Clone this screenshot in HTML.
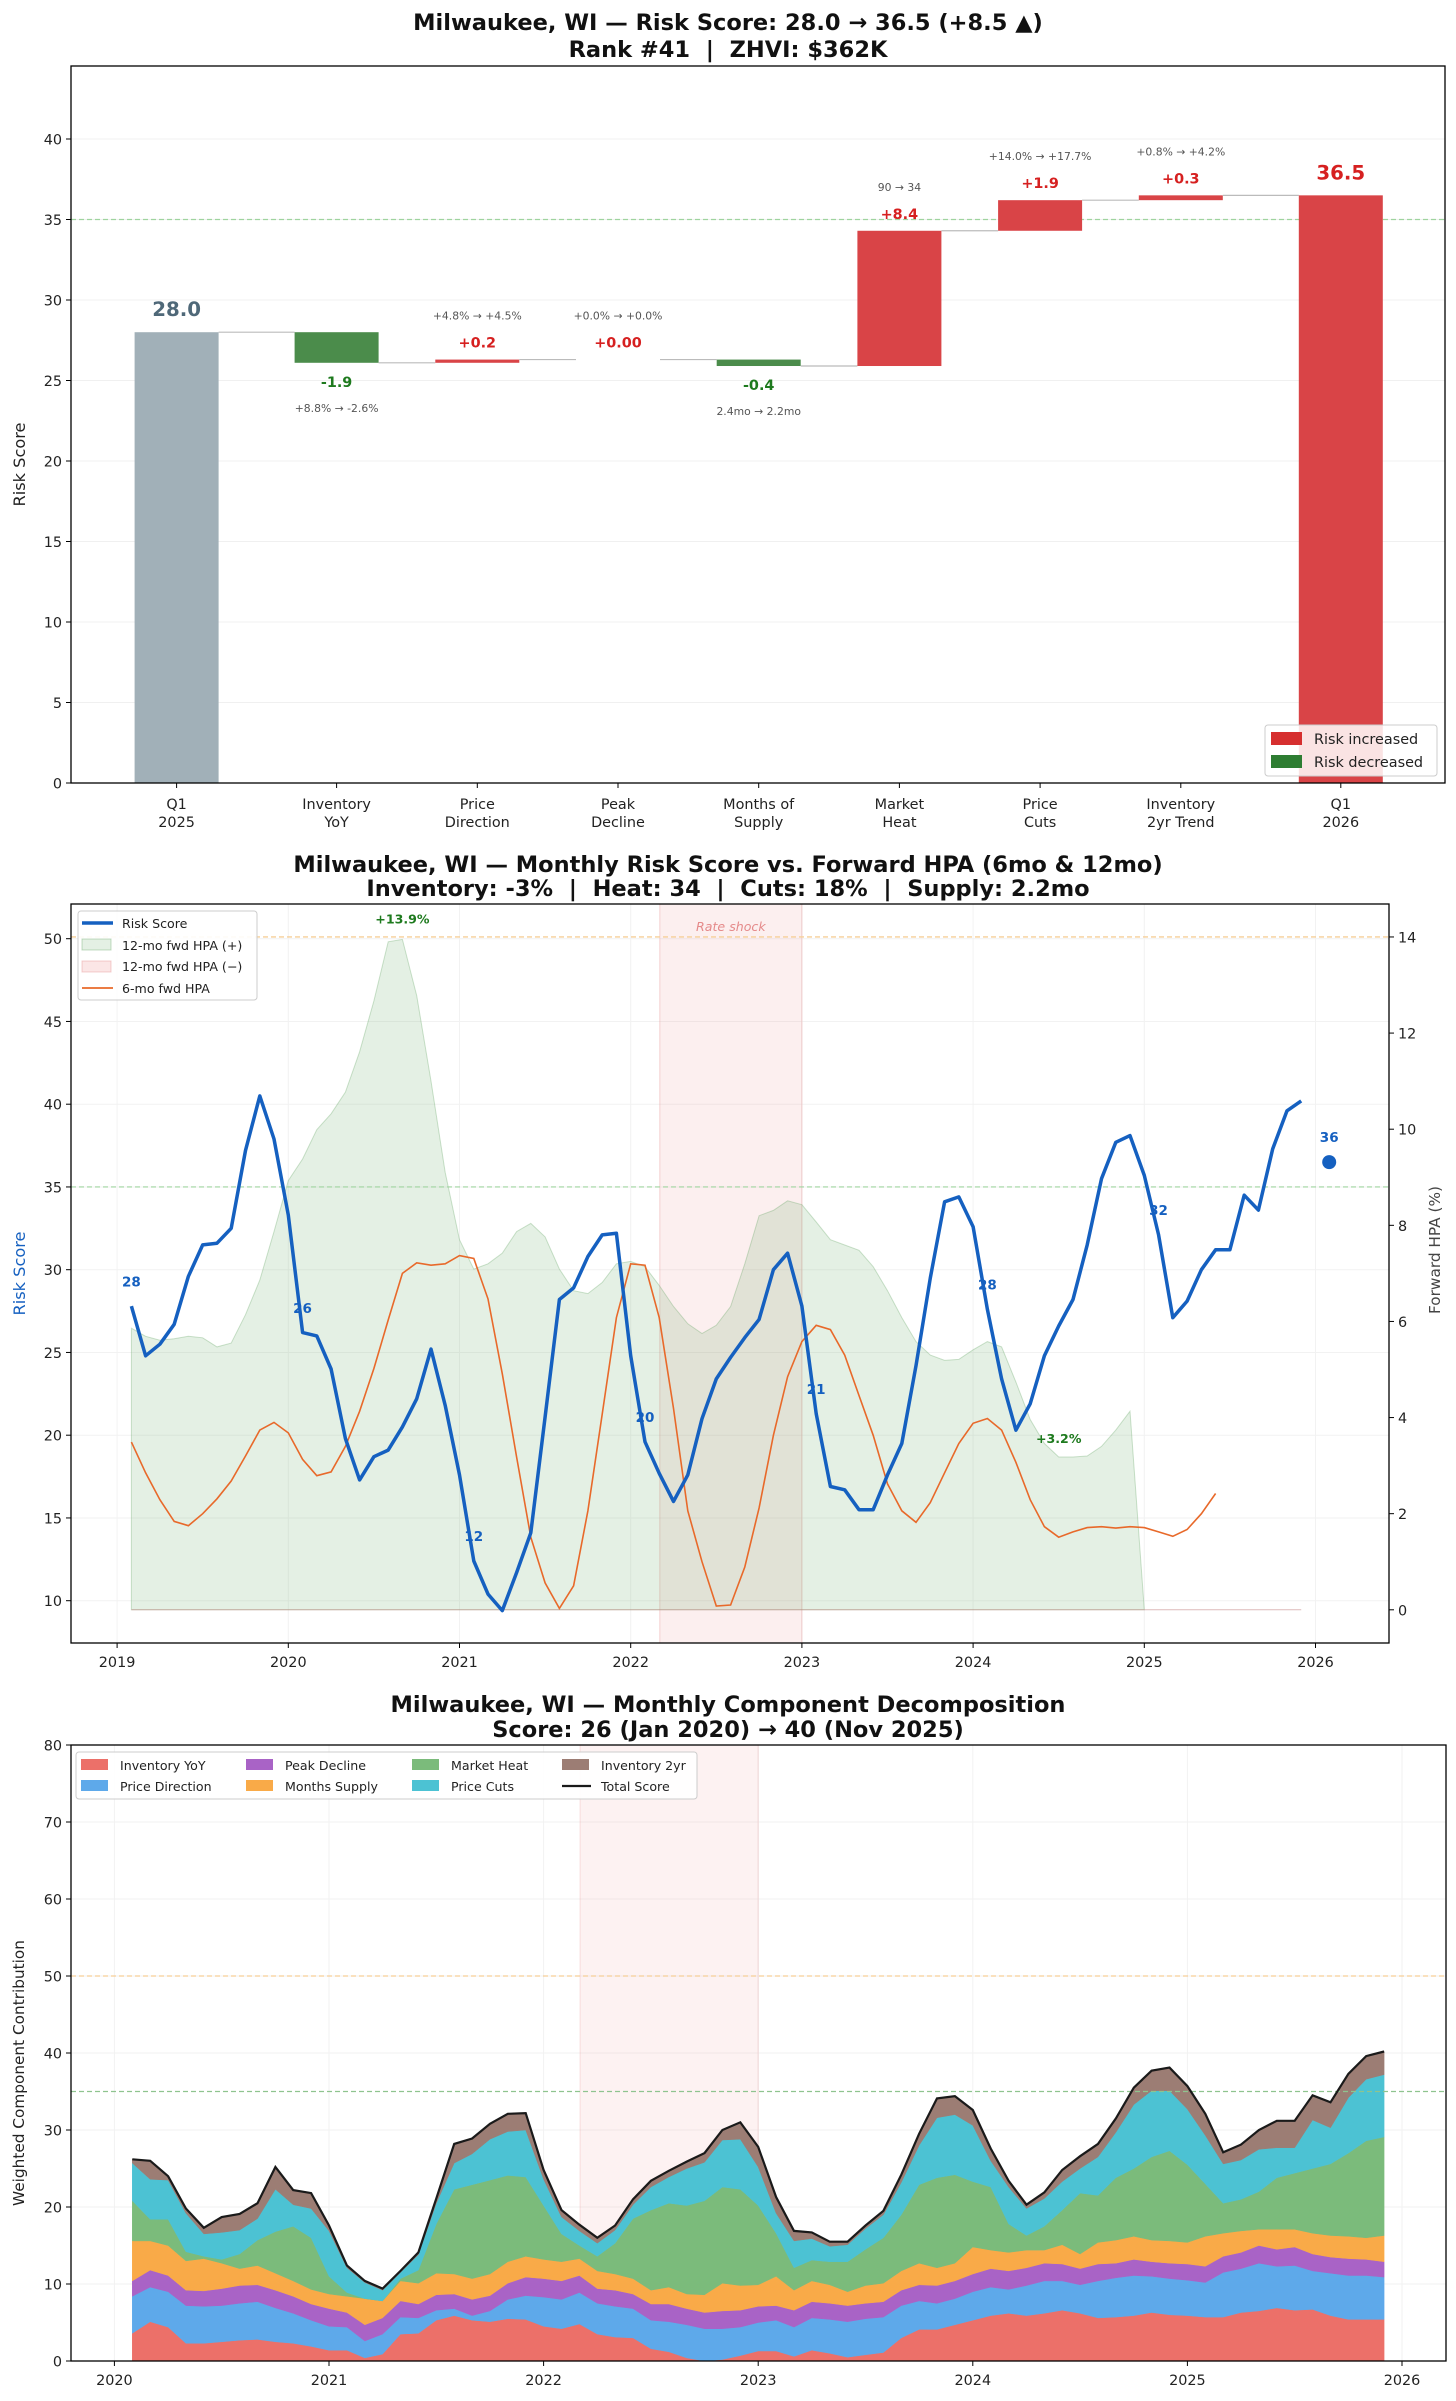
<!DOCTYPE html>
<html><head><meta charset="utf-8"><style>
html,body{margin:0;padding:0;background:#fff;}
svg{display:block;font-family:"DejaVu Sans","Liberation Sans",sans-serif;}
.pre{white-space:pre;}
</style></head><body>
<svg id="root" width="1456" height="2401" viewBox="0 0 1456 2401" xmlns="http://www.w3.org/2000/svg">
<rect width="1456" height="2401" fill="#fff"/>
<g id="p1"></g>
<g id="p2"></g>
<g id="p3"></g>
</svg>
<script>
// ---------- Panel 1 data ----------
const wfCategories = [["Q1","2025"],["Inventory","YoY"],["Price","Direction"],["Peak","Decline"],["Months of","Supply"],["Market","Heat"],["Price","Cuts"],["Inventory","2yr Trend"],["Q1","2026"]];
const wfStart = 28.0;
const wfDeltas = [-1.9, 0.2, 0.00, -0.4, 8.4, 1.9, 0.3];
const wfDeltaLabels = ["-1.9","+0.2","+0.00","-0.4","+8.4","+1.9","+0.3"];
const wfSubLabels = ["+8.8% \u2192 -2.6%","+4.8% \u2192 +4.5%","+0.0% \u2192 +0.0%","2.4mo \u2192 2.2mo","90 \u2192 34","+14.0% \u2192 +17.7%","+0.8% \u2192 +4.2%"];
const wfEnd = 36.5;
const wfYTicks = [0,5,10,15,20,25,30,35,40];

// ---------- Panel 2 data ----------
const riskScore = [27.8,24.8,25.5,26.7,29.6,31.5,31.6,32.5,37.2,40.5,37.9,
33.3,26.2,26.0,24.0,19.8,17.3,18.7,19.1,20.5,22.2,25.2,21.8,
17.6,12.4,10.4,9.4,11.7,14.1,21.1,28.2,28.9,30.8,32.1,32.2,
24.8,19.6,17.7,16.0,17.6,21.0,23.4,24.7,25.9,27.0,30.0,31.0,
27.8,21.3,16.9,16.7,15.5,15.5,17.6,19.5,24.2,29.5,34.1,34.4,
32.6,27.6,23.4,20.3,21.9,24.8,26.6,28.2,31.5,35.5,37.7,38.1,
35.7,32.1,27.1,28.1,30.0,31.2,31.2,34.5,33.6,37.3,39.6,40.2];
const hpa6 = [3.49,2.85,2.29,1.84,1.75,2.0,2.31,2.68,3.2,3.74,3.9,
3.68,3.13,2.79,2.87,3.4,4.13,5.02,6.03,7.0,7.22,7.17,7.2,
7.37,7.31,6.47,4.91,3.18,1.51,0.56,0.03,0.5,2.06,4.07,6.08,
7.2,7.17,6.08,4.19,2.06,1.0,0.08,0.1,0.89,2.12,3.63,4.85,
5.58,5.92,5.83,5.3,4.46,3.63,2.62,2.06,1.82,2.23,2.85,3.46,
3.88,3.98,3.74,3.07,2.29,1.73,1.51,1.62,1.71,1.73,1.7,1.73,
1.71,1.62,1.53,1.67,2.0,2.42];
const hpa12 = [5.86,5.69,5.61,5.64,5.69,5.66,5.47,5.55,6.14,6.86,7.87,
8.93,9.38,9.99,10.32,10.77,11.61,12.67,13.9,13.95,12.78,11.0,9.1,
7.7,7.09,7.2,7.42,7.87,8.04,7.76,7.09,6.64,6.58,6.81,7.2,
7.25,7.14,6.75,6.31,5.95,5.75,5.92,6.31,7.2,8.2,8.31,8.51,
8.43,8.07,7.7,7.59,7.48,7.14,6.64,6.08,5.58,5.3,5.19,5.21,
5.41,5.58,5.47,4.74,3.96,3.46,3.18,3.18,3.2,3.4,3.74,4.13,
0];
const riskStartYear = 2019 + 1/12;
const currentScore = 36.5;
const currentDate = 2026.08;
const p2YTicks = [10,15,20,25,30,35,40,45,50];
const p2RTicks = [0,2,4,6,8,10,12,14];
const p2XTicks = [2019,2020,2021,2022,2023,2024,2025,2026];

// ---------- Panel 3 data ----------
const compStartYear = 2020 + 1/12;
const invYoY = [3.6,5.1,4.4,2.3,2.3,2.5,2.7,2.8,2.5,2.3,1.9,1.4,1.4,0.4,0.9,3.5,3.6,5.3,5.9,5.3,5.1,5.5,5.4,4.5,4.2,4.8,3.5,3.1,3.0,1.6,1.2,0.4,0,0.2,0.7,1.3,1.3,0.6,1.4,1.0,0.5,0.8,1.1,3.0,4.1,4.1,4.7,5.3,5.9,6.2,5.9,6.2,6.6,6.2,5.6,5.7,5.9,6.3,6.0,5.9,5.7,5.7,6.3,6.5,6.9,6.6,6.7,5.9,5.4,5.4,5.4];
const priceDir = [4.8,4.5,4.6,4.9,4.8,4.7,4.8,4.9,4.4,3.9,3.4,3.1,3.0,2.2,2.6,2.2,2.0,1.3,0.9,0.6,1.4,2.5,3.1,3.8,3.8,4.1,4.0,4.0,3.8,3.7,3.9,4.3,4.2,4.0,3.7,3.7,4.0,3.8,4.2,4.4,4.6,4.7,4.6,4.2,3.7,3.4,3.4,3.7,3.7,3.1,3.9,4.2,3.8,3.7,4.8,5.1,5.2,4.7,4.7,4.6,4.5,5.8,5.7,6.2,5.4,5.8,5.0,5.5,5.7,5.7,5.5];
const peakDecl = [2.0,2.2,2.1,2.0,2.0,2.2,2.3,2.2,2.3,2.2,2.1,2.3,1.9,2.1,2.1,2.1,1.8,2.0,1.9,2.1,2.0,2.1,2.4,2.4,2.4,2.2,1.9,2.1,1.9,2.1,2.3,2.1,2.1,2.3,2.2,2.1,1.9,2.2,2.1,2.1,2.1,2.0,2.0,2.0,2.1,2.3,2.3,2.3,2.4,2.4,2.3,2.3,2.2,2.1,2.2,1.9,2.1,1.9,2.0,2.1,2.1,2.1,2.1,2.3,2.2,2.4,2.2,2.1,2.2,2.1,2.0];
const monthsSup = [5.2,3.8,3.9,3.8,4.2,3.3,2.2,2.5,2.2,2.0,1.9,1.9,2.1,3.4,2.2,2.6,2.7,2.8,2.6,2.7,2.8,2.8,2.7,2.5,2.5,2.2,2.3,2.1,2.0,1.8,2.2,1.9,2.3,3.6,3.2,2.8,3.8,2.6,2.7,2.4,1.8,2.3,2.4,2.5,2.8,2.3,2.3,3.5,2.4,2.4,2.3,1.7,2.5,1.9,2.8,3.0,3.0,2.8,2.9,2.8,3.9,3.0,2.8,2.1,2.6,2.3,2.7,2.8,2.9,2.8,3.4];
const mktHeat = [5.2,2.8,3.4,1.2,0.3,0.5,1.9,3.3,5.4,7.1,6.7,2.3,0.5,0,0,0.3,1.7,6.4,11.0,12.2,12.2,11.2,10.3,7.0,3.6,1.7,1.9,4.0,7.8,10.4,10.9,11.5,12.2,12.5,12.5,10.3,5.6,2.9,2.7,3.0,3.9,4.7,5.9,7.3,10.2,11.7,11.5,8.5,8.2,3.7,1.9,3.1,4.5,7.9,6.1,8.1,8.8,10.8,11.7,10.1,6.8,3.9,4.1,4.9,6.7,7.3,8.4,9.3,10.8,12.6,12.8];
const priceCuts = [4.9,5.2,5.1,5.0,2.9,3.5,3.1,2.8,5.5,2.8,3.8,5.9,3.2,2.1,1.4,0.8,2.0,2.7,3.4,4.0,5.3,5.7,6.1,3.4,2.2,1.9,1.7,1.7,1.8,3.0,3.4,4.8,5.0,6.1,6.5,5.0,2.6,3.5,2.8,2.0,2.2,2.7,3.0,4.2,5.1,7.8,7.8,7.3,3.4,4.8,3.5,3.6,3.7,3.2,5.0,5.9,8.3,8.6,7.8,7.2,6.3,5.1,5.1,5.5,3.9,3.3,6.3,4.7,7.2,8.0,8.1];
const inv2yr = [0.5,2.4,0.5,0.6,0.8,2.0,2.1,2.0,2.9,1.9,2.0,0.7,0.3,0.2,0.2,0.2,0.3,0.6,2.5,2.0,2.0,2.3,2.2,1.2,0.9,0.8,0.7,0.6,0.7,0.8,0.8,0.9,1.2,1.3,2.2,2.6,2.1,1.3,0.8,0.6,0.4,0.4,0.5,1.0,1.5,2.5,2.4,2.0,1.6,0.8,0.5,0.8,1.5,1.6,1.7,1.8,2.2,2.6,3.0,3.0,2.8,1.5,2.0,2.5,3.5,3.5,3.2,3.3,3.1,3.0,3.0];
const compNames = ["Inventory YoY","Price Direction","Peak Decline","Months Supply","Market Heat","Price Cuts","Inventory 2yr"];
const p3YTicks = [0,10,20,30,40,50,60,70,80];
const p3XTicks = [2020,2021,2022,2023,2024,2025,2026];
const rateShock = [2022.17, 2023.0];

// ---------- helpers ----------
const NS="http://www.w3.org/2000/svg";
const FS=0.9;
function mk(parent, tag, attrs, text){
  const e=document.createElementNS(NS,tag);
  for(const k in attrs){
    let v=attrs[k];
    if(k==='font-size') v=(v*FS).toFixed(2);
    e.setAttribute(k,v);
  }
  if(text!==undefined) e.textContent=text;
  parent.appendChild(e); return e;
}
function lineStr(pts){return pts.map((p,i)=>(i?'L':'M')+p[0].toFixed(1)+','+p[1].toFixed(1)).join('');}
const TITLE=25;

// ================= PANEL 1 =================
(function(){
  const g=document.getElementById('p1');
  const L=71,R=1445,T=66,B=783;
  const yS=v=>B-v*(B-139)/40;
  const step=140.7, gap=19.3;
  const xC=i=> i===0 ? 336.6-step-gap : (i===wfCategories.length-1 ? 336.6+(i-1)*step+gap : 336.6+(i-1)*step);
  const bw=84;
  let t=mk(g,'text',{x:728,y:30,'text-anchor':'middle','font-size':TITLE,'font-weight':'bold',fill:'#111'},'Milwaukee, WI \u2014 Risk Score: 28.0 \u2192 36.5 (+8.5 \u25B2)');
   
  t=mk(g,'text',{x:728,y:57,'text-anchor':'middle','font-size':TITLE,'font-weight':'bold',fill:'#111','class':'pre'},'Rank #41  |  ZHVI: $362K');
   
  wfYTicks.forEach(v=>{
    const y=yS(v);
    const gl=mk(g,'line',{x1:L,x2:R,y1:y,y2:y,stroke:'#f0f0f0','stroke-width':1});
     
    mk(g,'line',{x1:L-5,x2:L,y1:y,y2:y,stroke:'#000'});
    const tl=mk(g,'text',{x:L-9,y:y+5.5,'text-anchor':'end','font-size':16,fill:'#222'},String(v));
     
  });
  const ref=mk(g,'line',{x1:L,x2:R,y1:yS(35),y2:yS(35),stroke:'#9fd49f','stroke-width':1.2,'stroke-dasharray':'5,3'});
   
  let level=wfStart;
  let b=mk(g,'rect',{x:xC(0)-bw/2,y:yS(wfStart),width:bw,height:yS(0)-yS(wfStart),fill:'#a1b0b8'});
   
  t=mk(g,'text',{x:xC(0),y:yS(wfStart)-16,'text-anchor':'middle','font-size':22,'font-weight':'bold',fill:'#4f6878'},wfStart.toFixed(1));
   
  wfDeltas.forEach((d,k)=>{
    const i=k+1;
    const prev=level; level=+(level+d).toFixed(2);
    const cn=mk(g,'line',{x1:xC(i-1)+bw/2,x2:xC(i)-bw/2,y1:yS(prev),y2:yS(prev),stroke:'#bbb','stroke-width':1.2});
     
    const top=Math.max(prev,level), bot=Math.min(prev,level);
    const col=d>=0?'#d94447':'#4b8c4b';
    const h=Math.max(yS(bot)-yS(top), d===0?0:2.5);
    const r=mk(g,'rect',{x:xC(i)-bw/2,y:yS(top),width:bw,height:h,fill:col});
     
    const lc=d>=0?'#d62020':'#1e7a1e';
    if(d>=0){
      const a=mk(g,'text',{x:xC(i),y:yS(top)-12,'text-anchor':'middle','font-size':16,'font-weight':'bold',fill:lc},wfDeltaLabels[k]);
       
      const s=mk(g,'text',{x:xC(i),y:yS(top)-40,'text-anchor':'middle','font-size':12,fill:'#555'},wfSubLabels[k]);
       
    } else {
      const a=mk(g,'text',{x:xC(i),y:yS(bot)+24,'text-anchor':'middle','font-size':16,'font-weight':'bold',fill:lc},wfDeltaLabels[k]);
       
      const s=mk(g,'text',{x:xC(i),y:yS(bot)+49,'text-anchor':'middle','font-size':12,fill:'#555'},wfSubLabels[k]);
       
    }
  });
  const last=wfCategories.length-1;
  let cn=mk(g,'line',{x1:xC(last-1)+bw/2,x2:xC(last)-bw/2,y1:yS(level),y2:yS(level),stroke:'#bbb','stroke-width':1.2});
   
  b=mk(g,'rect',{x:xC(last)-bw/2,y:yS(wfEnd),width:bw,height:yS(0)-yS(wfEnd),fill:'#d94447'});
   
  t=mk(g,'text',{x:xC(last),y:yS(wfEnd)-16,'text-anchor':'middle','font-size':22,'font-weight':'bold',fill:'#d62020'},wfEnd.toFixed(1));
   
  wfCategories.forEach((c,i)=>{
    mk(g,'line',{x1:xC(i),x2:xC(i),y1:B,y2:B+5,stroke:'#000'});
    const tl=mk(g,'text',{x:xC(i),y:B+26,'text-anchor':'middle','font-size':16,fill:'#222'},c[0]);
     
    const t2=mk(g,'text',{x:xC(i),y:B+44,'text-anchor':'middle','font-size':16,fill:'#222'},c[1]);
     
  });
  const ax=mk(g,'rect',{x:L,y:T,width:R-L,height:B-T,fill:'none',stroke:'#000','stroke-width':1.3});
   
  t=mk(g,'text',{x:25,y:(T+B)/2+40,'text-anchor':'middle','font-size':18,fill:'#222',transform:`rotate(-90 25 ${(T+B)/2+40})`},'Risk Score');
   
  const lg=mk(g,'g',{});
   
  mk(lg,'rect',{x:1265,y:725,width:172,height:51,rx:3,fill:'rgba(255,255,255,0.85)',stroke:'#ccc'});
  let e=mk(lg,'rect',{x:1271,y:732,width:31,height:13,fill:'#d62f2f'});
   
  e=mk(lg,'text',{x:1314,y:744,'font-size':16,fill:'#222'},'Risk increased');
   
  e=mk(lg,'rect',{x:1271,y:755,width:31,height:13,fill:'#2e7d32'});
   
  e=mk(lg,'text',{x:1314,y:767,'font-size':16,fill:'#222'},'Risk decreased');
   
})();

// ================= PANEL 2 =================
(function(){
  const g=document.getElementById('p2');
  const L=71,R=1389,T=904,B=1643;
  const xS=d=>117.1+(d-2019)*171.2;
  const yS=v=>938.7+(50-v)*16.55;
  const rS=v=>1609.8-v*48.06;
  let t=mk(g,'text',{x:728,y:872,'text-anchor':'middle','font-size':TITLE,'font-weight':'bold',fill:'#111'},'Milwaukee, WI \u2014 Monthly Risk Score vs. Forward HPA (6mo & 12mo)');
   
  t=mk(g,'text',{x:728,y:896,'text-anchor':'middle','font-size':TITLE,'font-weight':'bold',fill:'#111','class':'pre'},'Inventory: -3%  |  Heat: 34  |  Cuts: 18%  |  Supply: 2.2mo');
   
  p2YTicks.forEach(v=>{
    const y=yS(v);
    const gl=mk(g,'line',{x1:L,x2:R,y1:y,y2:y,stroke:'#f2f2f2'});
     
    mk(g,'line',{x1:L-5,x2:L,y1:y,y2:y,stroke:'#000'});
    const tl=mk(g,'text',{x:L-9,y:y+5.5,'text-anchor':'end','font-size':16,fill:'#222'},String(v));
     
  });
  p2XTicks.forEach(v=>{
    const x=xS(v);
    const gl=mk(g,'line',{x1:x,x2:x,y1:T,y2:B,stroke:'#f2f2f2'});
     
    mk(g,'line',{x1:x,x2:x,y1:B,y2:B+5,stroke:'#000'});
    const tl=mk(g,'text',{x:x,y:B+24,'text-anchor':'middle','font-size':16,fill:'#222'},String(v));
     
  });
  p2RTicks.forEach(v=>{
    const y=rS(v);
    mk(g,'line',{x1:R,x2:R+5,y1:y,y2:y,stroke:'#000'});
    const tl=mk(g,'text',{x:R+9,y:y+5.5,'font-size':16,fill:'#222'},String(v));
     
  });
  const band=mk(g,'rect',{x:xS(rateShock[0]),y:T,width:xS(rateShock[1])-xS(rateShock[0]),height:B-T,fill:'rgba(235,130,130,0.13)',stroke:'rgba(230,140,140,0.35)'});
   
  t=mk(g,'text',{x:(xS(rateShock[0])+xS(rateShock[1]))/2,y:931,'text-anchor':'middle','font-size':14,'font-style':'italic',fill:'#e58a8a'},'Rate shock');
   
  const fx=i=>xS(riskStartYear+i/12);
  const pts=hpa12.map((v,i)=>[fx(i),rS(v)]);
  const area=lineStr(pts)+`L${fx(hpa12.length-1)},${rS(0)}L${fx(0)},${rS(0)}Z`;
  let a=mk(g,'path',{d:area,fill:'rgba(90,160,90,0.16)',stroke:'rgba(90,160,90,0.3)','stroke-width':1});
   
  a=mk(g,'line',{x1:fx(0),x2:fx(riskScore.length-1),y1:rS(0),y2:rS(0),stroke:'rgba(200,140,140,0.6)','stroke-width':1});
   
  a=mk(g,'line',{x1:L,x2:R,y1:rS(14),y2:rS(14),stroke:'#f6cf98','stroke-width':1.3,'stroke-dasharray':'5,3'});
   
  a=mk(g,'line',{x1:L,x2:R,y1:yS(35),y2:yS(35),stroke:'#9fd49f','stroke-width':1.2,'stroke-dasharray':'5,3'});
   
  a=mk(g,'path',{d:lineStr(hpa6.map((v,i)=>[fx(i),rS(v)])),fill:'none',stroke:'#e8692a','stroke-width':1.6});
   
  a=mk(g,'path',{d:lineStr(riskScore.map((v,i)=>[fx(i),yS(v)])),fill:'none',stroke:'#1560c0','stroke-width':3.5,'stroke-linejoin':'round'});
   
  for(let i=0;i<riskScore.length;i+=12){
    const lb=mk(g,'text',{x:fx(i),y:yS(riskScore[i]+1.5)+5,'text-anchor':'middle','font-size':15,'font-weight':'bold',fill:'#1560c0'},String(Math.round(riskScore[i])));
     
  }
  a=mk(g,'circle',{cx:xS(currentDate),cy:yS(currentScore),r:7,fill:'#1560c0'});
   
  a=mk(g,'text',{x:xS(currentDate),y:yS(currentScore)-20,'text-anchor':'middle','font-size':15,'font-weight':'bold',fill:'#1560c0'},String(Math.round(currentScore-0.5)));
   
  const pk=hpa12.slice(0,-1); const mx=Math.max(...pk); const mxi=pk.indexOf(mx);
  a=mk(g,'text',{x:fx(mxi),y:rS(mx)-16,'text-anchor':'middle','font-size':14,'font-weight':'bold',fill:'#1e7a1e'},'+'+mx.toFixed(1)+'%');
   
  const late=pk.slice(60); const mn=Math.min(...late); const mni=60+late.indexOf(mn);
  a=mk(g,'text',{x:fx(mni),y:rS(mn)-14,'text-anchor':'middle','font-size':14,'font-weight':'bold',fill:'#1e7a1e'},'+'+mn.toFixed(1)+'%');
   
  a=mk(g,'rect',{x:L,y:T,width:R-L,height:B-T,fill:'none',stroke:'#000','stroke-width':1.3});
   
  t=mk(g,'text',{x:25,y:(T+B)/2,'text-anchor':'middle','font-size':18,fill:'#1560c0',transform:`rotate(-90 25 ${(T+B)/2})`},'Risk Score');
   
  t=mk(g,'text',{x:1440,y:1250,'text-anchor':'middle','font-size':17,fill:'#444',transform:'rotate(-90 1440 1250)'},'Forward HPA (%)');
   
  const lg=mk(g,'g',{});
   
  mk(lg,'rect',{x:78,y:911,width:179,height:89,rx:3,fill:'rgba(255,255,255,0.9)',stroke:'#ccc'});
  let e=mk(lg,'line',{x1:82,x2:113,y1:923,y2:923,stroke:'#1560c0','stroke-width':3.5});
   
  e=mk(lg,'text',{x:122,y:928,'font-size':14,fill:'#222'},'Risk Score');
   
  e=mk(lg,'rect',{x:82,y:939,width:29,height:11,fill:'rgba(90,160,90,0.16)',stroke:'rgba(90,160,90,0.35)'});
   
  e=mk(lg,'text',{x:122,y:950,'font-size':14,fill:'#222'},'12-mo fwd HPA (+)');
   
  e=mk(lg,'rect',{x:82,y:961,width:29,height:11,fill:'rgba(235,130,130,0.2)',stroke:'rgba(230,140,140,0.4)'});
   
  e=mk(lg,'text',{x:122,y:971,'font-size':14,fill:'#222'},'12-mo fwd HPA (\u2212)');
   
  e=mk(lg,'line',{x1:82,x2:113,y1:988,y2:988,stroke:'#e8692a','stroke-width':1.8});
   
  e=mk(lg,'text',{x:122,y:993,'font-size':14,fill:'#222'},'6-mo fwd HPA');
   
})();

// ================= PANEL 3 =================
(function(){
  const g=document.getElementById('p3');
  const L=71,R=1446,T=1745,B=2361;
  const xS=d=>114.4+(d-2020)*214.6;
  const yS=v=>B-v*(B-T)/80;
  let t=mk(g,'text',{x:728,y:1712,'text-anchor':'middle','font-size':TITLE,'font-weight':'bold',fill:'#111'},'Milwaukee, WI \u2014 Monthly Component Decomposition');
   
  t=mk(g,'text',{x:728,y:1737,'text-anchor':'middle','font-size':TITLE,'font-weight':'bold',fill:'#111'},'Score: 26 (Jan 2020) \u2192 40 (Nov 2025)');
   
  p3YTicks.forEach(v=>{
    const y=yS(v);
    const gl=mk(g,'line',{x1:L,x2:R,y1:y,y2:y,stroke:'#f2f2f2'});
     
    mk(g,'line',{x1:L-5,x2:L,y1:y,y2:y,stroke:'#000'});
    const tl=mk(g,'text',{x:L-9,y:y+5.5,'text-anchor':'end','font-size':16,fill:'#222'},String(v));
     
  });
  p3XTicks.forEach(v=>{
    const x=xS(v);
    const gl=mk(g,'line',{x1:x,x2:x,y1:T,y2:B,stroke:'#f2f2f2'});
     
    mk(g,'line',{x1:x,x2:x,y1:B,y2:B+5,stroke:'#000'});
    const tl=mk(g,'text',{x:x,y:B+24,'text-anchor':'middle','font-size':16,fill:'#222'},String(v));
     
  });
  const band=mk(g,'rect',{x:xS(rateShock[0]),y:T,width:xS(rateShock[1])-xS(rateShock[0]),height:B-T,fill:'rgba(235,130,130,0.1)',stroke:'rgba(230,140,140,0.25)'});
   
  let a=mk(g,'line',{x1:L,x2:R,y1:yS(50),y2:yS(50),stroke:'#f6cf98','stroke-width':1.3,'stroke-dasharray':'5,3'});
   
  const series=[invYoY,priceDir,peakDecl,monthsSup,mktHeat,priceCuts,inv2yr];
  const colors=['#ec7069','#5ea9ea','#a963c6','#f9aa48','#7bbb7b','#4cc2d3','#9c7d74'];
  const keys=['inventory-yoy','price-direction','peak-decline','months-supply','market-heat','price-cuts','inventory-2yr'];
  const n=invYoY.length;
  const fx=i=>xS(compStartYear+i/12);
  let base=new Array(n).fill(0);
  series.forEach((s,k)=>{
    const top=base.map((b,i)=>b+s[i]);
    const up=top.map((v,i)=>[fx(i),yS(v)]);
    const dn=base.map((v,i)=>[fx(i),yS(v)]).reverse();
    const p=mk(g,'path',{d:lineStr(up.concat(dn))+'Z',fill:colors[k],stroke:colors[k],'stroke-width':0.5});
     
    base=top;
  });
  a=mk(g,'line',{x1:L,x2:R,y1:yS(35),y2:yS(35),stroke:'#8fc48f','stroke-width':1.2,'stroke-dasharray':'5,3'});
   
  a=mk(g,'path',{d:lineStr(base.map((v,i)=>[fx(i),yS(v)])),fill:'none',stroke:'#1a1a1a','stroke-width':2.2});
   
  a=mk(g,'rect',{x:L,y:T,width:R-L,height:B-T,fill:'none',stroke:'#000','stroke-width':1.3});
   
  t=mk(g,'text',{x:24,y:(T+B)/2+20,'text-anchor':'middle','font-size':17,fill:'#222',transform:`rotate(-90 24 ${(T+B)/2+20})`},'Weighted Component Contribution');
   
  const lg=mk(g,'g',{});
   
  mk(lg,'rect',{x:76,y:1752,width:621,height:47,rx:3,fill:'rgba(255,255,255,0.92)',stroke:'#ccc'});
  const colX=[81,246,412,562];
  const order=[[0,1],[2,3],[4,5],[6,7]];
  order.forEach((pair,c)=>{
    pair.forEach((k,r)=>{
      const y=1765+r*21;
      if(k<7){
        const s=mk(lg,'rect',{x:colX[c],y:y-6,width:27,height:11,fill:colors[k]});
         
        const tx=mk(lg,'text',{x:colX[c]+39,y:y+5,'font-size':14,fill:'#222'},compNames[k]);
         
      } else {
        const s=mk(lg,'line',{x1:colX[c],x2:colX[c]+29,y1:y,y2:y,stroke:'#1a1a1a','stroke-width':2.2});
         
        const tx=mk(lg,'text',{x:colX[c]+39,y:y+5,'font-size':14,fill:'#222'},'Total Score');
         
      }
    });
  });
})();
</script>
</body></html>
